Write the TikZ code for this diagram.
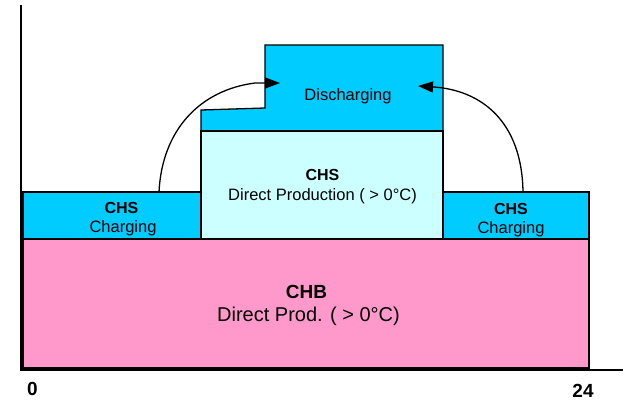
\documentclass[tikz,border=0pt]{standalone}
\usepackage{fontspec}
\setmainfont{Liberation Sans}
\usepackage{xcolor}
\usepackage{tikz}
\usetikzlibrary{arrows.meta}

\definecolor{chscyan}{HTML}{00CCFF}
\definecolor{chslight}{HTML}{CCFFFF}
\definecolor{chbpink}{HTML}{FF99CC}

\begin{document}
\begin{tikzpicture}[
  x=1pt, y=-1pt,
  box/.style={draw, line width=1.3pt, outer sep=0pt, inner sep=0pt,
              anchor=north west},
  hd/.style={anchor=base, inner sep=0pt, font=\bfseries\fontsize{16}{19}\selectfont},
  lbl/.style={anchor=base, inner sep=0pt, font=\fontsize{16.5}{19}\selectfont},
  num/.style={anchor=base, inner sep=0pt, font=\bfseries\fontsize{19}{22}\selectfont},
  arr/.style={-{Triangle[length=15pt,width=11pt]}, line width=1.3pt}
]
\useasboundingbox (0,0) rectangle (627,402);

\node[box, fill=chbpink, minimum width=566pt, minimum height=129pt] (chb) at (23,239) {};
\node[box, fill=chscyan, minimum width=178pt, minimum height=47pt] (chsL) at (23,192) {};
\node[box, fill=chscyan, minimum width=146pt, minimum height=47pt] (chsR) at (443,192) {};
\draw[line width=1.3pt, fill=chscyan] (201,131) -- (201,110) -- (265,108) -- (265,45)
  -- (443,45) -- (443,131) -- cycle;
\node[box, fill=chslight, minimum width=242pt, minimum height=108pt] (prod) at (201,131) {};

\draw[line width=1.6pt] (21,5) -- (21,370) -- (623,370);

\node[hd] (chsLhd) at (121.5,213) {CHS};
\node[lbl] (chsLtxt) at (123,232) {Charging};
\node[hd] (chsRhd) at (511,214) {CHS};
\node[lbl] (chsRtxt) at (511,233) {Charging};
\node[hd] (prodhd) at (322.5,180) {CHS};
\node[lbl] (prodtxt) at (322.5,200) {Direct Production ( > 0°C)};
\node[lbl] (dischtxt) at (348,100.5) {Discharging};
\node[hd, font=\bfseries\fontsize{19}{22}\selectfont] (chbhd) at (306.5,298) {CHB};
\node[lbl, font=\fontsize{20}{24}\selectfont] (chbtxt) at (308.5,321.5) {Direct Prod. ( > 0°C)};
\node[num] (tstart) at (32.5,395) {0};
\node[num] (tend) at (583,397) {24};

\coordinate (chgL) at (159,192);
\coordinate (chgR) at (523,192);
\coordinate (dischL) at (280,83);
\coordinate (dischR) at (418,86);
\draw[arr] (chgL) .. controls (162,130) and (200,90) .. (255,83) -- (dischL);
\draw[arr] (chgR) .. controls (522,122) and (482,90) .. (dischR);
\end{tikzpicture}
\end{document}
